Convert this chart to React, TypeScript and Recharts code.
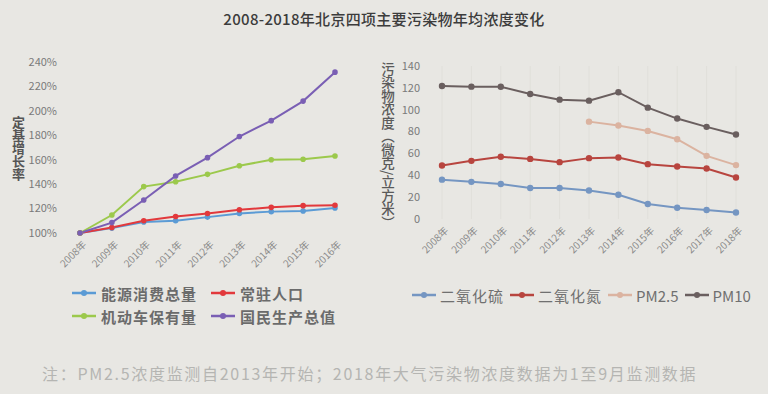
import React from 'react';
import { LineChart, Line, XAxis, YAxis, CartesianGrid } from 'recharts';

// ---- Left chart data (定基增长率, %) ----
const leftYears = ['2008年', '2009年', '2010年', '2011年', '2012年', '2013年', '2014年', '2015年', '2016年'];
const energyTotal = [100, 104, 109, 110, 113, 116, 117.5, 118, 120.5];
const residentPop = [100, 104.5, 110, 113.5, 116, 119, 121, 122.4, 122.7];
const vehicleStock = [100, 114.7, 138, 142, 148, 155, 160, 160.4, 163];
const gdpTotal = [100, 108.5, 127, 146.7, 161.7, 179, 192, 208, 231.7];
const leftTicks = [100, 120, 140, 160, 180, 200, 220, 240];

// ---- Right chart data (微克/立方米) ----
const rightYears = ['2008年', '2009年', '2010年', '2011年', '2012年', '2013年', '2014年', '2015年', '2016年', '2017年', '2018年'];
const so2 = [36, 34, 32, 28.3, 28.3, 26.1, 22.2, 13.7, 10.3, 8.2, 6];
const no2 = [49, 53.2, 56.9, 55, 52, 55.7, 56.3, 50.2, 48, 46.2, 38];
const pm25 = [null, null, null, null, null, 89.1, 85.5, 80.6, 73, 57.8, 49.3];
const pm10 = [121.7, 121.1, 121, 114.4, 109.2, 108.3, 116, 101.9, 91.9, 84.3, 77.3];
const rightTicks = [0, 20, 40, 60, 80, 100, 120, 140];

const leftSeries = [
  { key: 'energy', name: '能源消费总量', color: '#5b9bd5', values: energyTotal },
  { key: 'pop', name: '常驻人口', color: '#e2393c', values: residentPop },
  { key: 'veh', name: '机动车保有量', color: '#9cc94c', values: vehicleStock },
  { key: 'gdp', name: '国民生产总值', color: '#7a5fb4', values: gdpTotal },
];

const rightSeries = [
  { key: 'so2', name: '二氧化硫', color: '#7596c2', values: so2 },
  { key: 'no2', name: '二氧化氮', color: '#b8453f', values: no2 },
  { key: 'pm25', name: 'PM2.5', color: '#dbb3a0', values: pm25 },
  { key: 'pm10', name: 'PM10', color: '#6a5f5f', values: pm10 },
];

const leftData = leftYears.map((y, i) => {
  const row: any = { year: y };
  leftSeries.forEach((s) => (row[s.key] = s.values[i]));
  return row;
});
const rightData = rightYears.map((y, i) => {
  const row: any = { year: y };
  rightSeries.forEach((s) => (row[s.key] = s.values[i]));
  return row;
});

const FONT = '"Noto Sans CJK SC", "Noto Sans", sans-serif';
const BG = '#e8e7e3';

const RotTick = (props: any) => {
  const { x, y, payload } = props;
  return (
    <text
      x={0}
      y={0}
      transform={`translate(${x + 4},${y + 9}) rotate(-45)`}
      textAnchor="end"
      dominantBaseline="central"
      fontSize={10}
      fill="#8a8a8a"
      fontFamily={FONT}
    >
      {payload.value}
    </text>
  );
};

const Marker = ({ color }: { color: string }) => (
  <svg width={24} height={10} style={{ display: 'block' }}>
    <line x1={0} y1={5} x2={24} y2={5} stroke={color} strokeWidth={2.5} />
    <circle cx={12} cy={5} r={3} fill={color} />
  </svg>
);

const isLatin = (s: string) => /^[\x00-\x7F]+$/.test(s);

export default function App() {
  return (
    <div
      style={{
        position: 'absolute',
        left: 0,
        top: 0,
        width: 768,
        height: 394,
        background: BG,
        overflow: 'hidden',
        fontFamily: FONT,
      }}
    >
      <div
        style={{
          position: 'absolute',
          left: 0,
          top: 8,
          width: 768,
          textAlign: 'center',
          fontSize: 15,
          fontWeight: 500,
          color: '#3c3c3c',
          letterSpacing: 0.3,
        }}
      >
        2008-2018年北京四项主要污染物年均浓度变化
      </div>

      {/* Left chart */}
      <div style={{ position: 'absolute', left: 0, top: 0 }}>
        <LineChart width={384} height={394} data={leftData} margin={{ top: 62, right: 49, bottom: 131, left: 0 }}>
          <XAxis
            dataKey="year"
            axisLine={false}
            tickLine={false}
            tickSize={0}
            tickMargin={0}
            height={30}
            interval={0}
            tick={<RotTick />}
          />
          <YAxis
            domain={[100, 240]}
            ticks={leftTicks}
            width={80}
            axisLine={false}
            tickLine={false}
            tickSize={0}
            tickMargin={23}
            tickFormatter={(v: number) => `${v}%`}
            tick={{ fontSize: 11, fill: '#7a7a7a', fontFamily: FONT }}
            interval={0}
          />
          {leftSeries.map((s) => (
            <Line
              key={s.key}
              dataKey={s.key}
              name={s.name}
              stroke={s.color}
              strokeWidth={2}
              dot={{ r: 1.8, fill: s.color, stroke: s.color }}
              isAnimationActive={false}
            />
          ))}
        </LineChart>
      </div>

      {/* Right chart */}
      <div style={{ position: 'absolute', left: 384, top: 0 }}>
        <LineChart width={384} height={394} data={rightData} margin={{ top: 66, right: 32, bottom: 145, left: 0 }}>
          <CartesianGrid horizontal={false} vertical={true} stroke="#e0dfda" />
          <XAxis
            dataKey="year"
            axisLine={false}
            tickLine={false}
            tickSize={0}
            tickMargin={0}
            height={30}
            interval={0}
            tick={<RotTick />}
          />
          <YAxis
            domain={[0, 140]}
            ticks={rightTicks}
            width={58}
            axisLine={false}
            tickLine={false}
            tickSize={0}
            tickMargin={22}
            tick={{ fontSize: 11, fill: '#7a7a7a', fontFamily: FONT }}
            interval={0}
          />
          {rightSeries.map((s) => (
            <Line
              key={s.key}
              dataKey={s.key}
              name={s.name}
              stroke={s.color}
              strokeWidth={2}
              dot={{ r: 2.2, fill: s.color, stroke: s.color }}
              connectNulls={false}
              isAnimationActive={false}
            />
          ))}
        </LineChart>
      </div>

      {/* Axis titles */}
      <div
        style={{
          position: 'absolute',
          left: 10,
          top: 116,
          writingMode: 'vertical-rl',
          fontSize: 13,
          fontWeight: 700,
          color: '#555',
          lineHeight: '16px',
        }}
      >
        定基增长率
      </div>
      <div
        style={{
          position: 'absolute',
          left: 380,
          top: 62,
          writingMode: 'vertical-rl',
          fontSize: 13.5,
          fontWeight: 500,
          color: '#5a5a5a',
          lineHeight: '16px',
        }}
      >
        污染物浓度（微克/立方米）
      </div>

      {/* Left legend */}
      {leftSeries.map((s, i) => (
        <div
          key={s.key}
          style={{
            position: 'absolute',
            left: i % 2 === 0 ? 72 : 211,
            top: i < 2 ? 283 : 306,
            display: 'flex',
            alignItems: 'center',
            height: 20,
            fontSize: 15,
            fontWeight: 700,
            color: '#6b6b6b',
            letterSpacing: 1,
            whiteSpace: 'nowrap',
          }}
        >
          <Marker color={s.color} />
          <span style={{ marginLeft: 5 }}>{s.name}</span>
        </div>
      ))}

      {/* Right legend */}
      <div
        style={{
          position: 'absolute',
          left: 412,
          top: 285,
          display: 'flex',
          alignItems: 'center',
          height: 20,
          fontSize: 15,
          color: '#707070',
          whiteSpace: 'nowrap',
        }}
      >
        {rightSeries.map((s) => (
          <div key={s.key} style={{ display: 'flex', alignItems: 'center', marginRight: 6 }}>
            <Marker color={s.color} />
            <span style={{ marginLeft: 4, letterSpacing: isLatin(s.name) ? 0 : 1 }}>{s.name}</span>
          </div>
        ))}
      </div>

      {/* Footnote */}
      <div
        style={{
          position: 'absolute',
          left: 42,
          top: 361,
          fontSize: 16,
          color: '#b5b5b2',
          letterSpacing: 1.7,
          whiteSpace: 'nowrap',
        }}
      >
        注：PM2.5浓度监测自2013年开始；2018年大气污染物浓度数据为1至9月监测数据
      </div>
    </div>
  );
}
